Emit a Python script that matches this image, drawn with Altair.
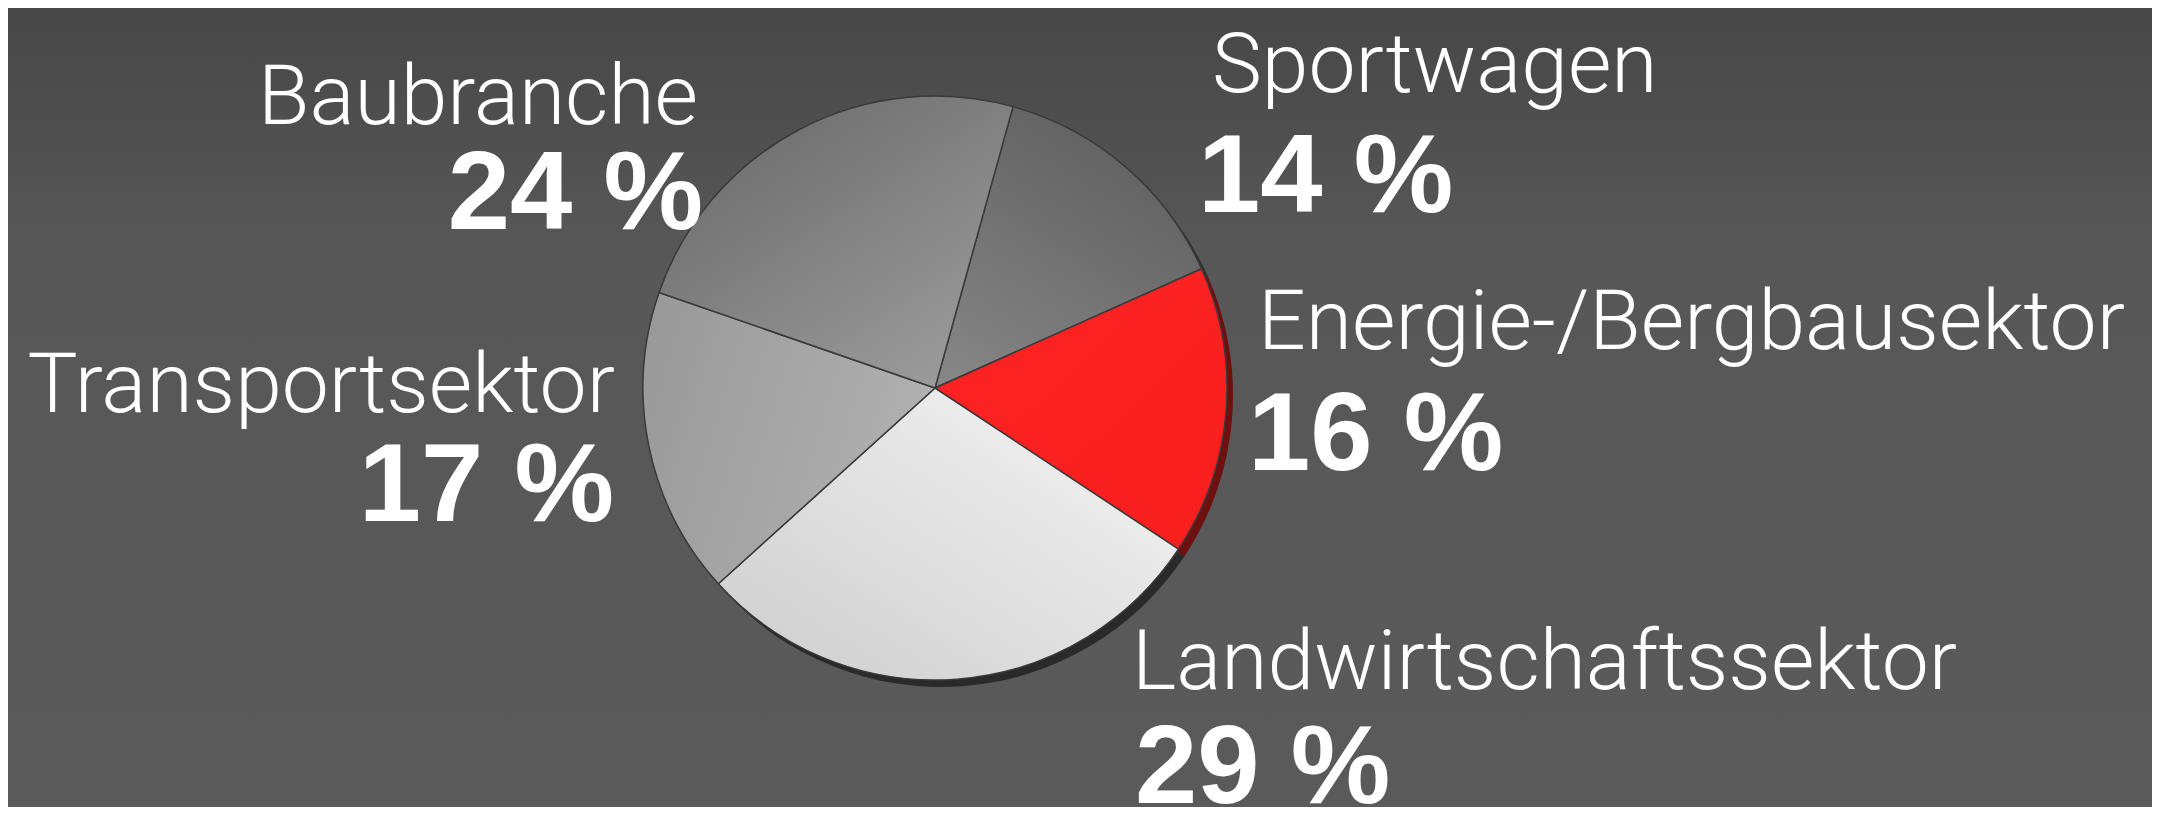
import math
import altair as alt
import pandas as pd

# ---- data ----
categories = ["Sportwagen", "Energie-/Bergbausektor", "Landwirtschaftssektor",
              "Transportsektor", "Baubranche"]
shares = [14, 16, 29, 17, 24]
pct_labels = [f"{v} %" for v in shares]

# ---- layout (chart pixel coords) ----
CX, CY, R = 927, 380, 292
RIM_DX, RIM_DY = 6, 7
START = math.radians(15.5)

label_layout = {
    # cat: (align, name_x, name_baseline, pct_x, pct_baseline)
    "Sportwagen": ("left", 1204, 84, 1190, 204),
    "Energie-/Bergbausektor": ("left", 1250, 341, 1240, 462),
    "Landwirtschaftssektor": ("left", 1124, 681, 1127, 795),
    "Transportsektor": ("right", 607, 404, 606, 513),
    "Baubranche": ("right", 690, 116, 695, 221),
}

slice_fill = {
    "Sportwagen": alt.LinearGradient(gradient="linear", x1=0.7, y1=0, x2=0.1, y2=1,
                                     stops=[alt.GradientStop(offset=0, color="#5e5e5e"),
                                            alt.GradientStop(offset=1, color="#868686")]),
    "Energie-/Bergbausektor": alt.LinearGradient(gradient="linear", x1=0, y1=0, x2=1, y2=1,
                                                 stops=[alt.GradientStop(offset=0, color="#ff2424"),
                                                        alt.GradientStop(offset=1, color="#f81e1e")]),
    "Landwirtschaftssektor": alt.LinearGradient(gradient="linear", x1=0, y1=1, x2=1, y2=0,
                                                stops=[alt.GradientStop(offset=0, color="#cdcdcd"),
                                                       alt.GradientStop(offset=1, color="#f6f6f6")]),
    "Transportsektor": alt.LinearGradient(gradient="linear", x1=0, y1=0.3, x2=1, y2=0.6,
                                          stops=[alt.GradientStop(offset=0, color="#9a9a9a"),
                                                 alt.GradientStop(offset=1, color="#b2b2b2")]),
    "Baubranche": alt.LinearGradient(gradient="linear", x1=0.1, y1=0, x2=0.9, y2=1,
                                     stops=[alt.GradientStop(offset=0, color="#686868"),
                                            alt.GradientStop(offset=1, color="#9e9e9e")]),
}
rim_colors = ["#2e2e2e", "#6e1010", "#2a2a2a", "#2e2e2e", "#2e2e2e"]

df = pd.DataFrame({
    "cat": categories,
    "share": shares,
    "order": list(range(len(categories))),
    "pct": pct_labels,
    "align": [label_layout[c][0] for c in categories],
    "nx": [label_layout[c][1] for c in categories],
    "ny": [label_layout[c][2] for c in categories],
    "px": [label_layout[c][3] for c in categories],
    "py": [label_layout[c][4] for c in categories],
})

W, H = 2144, 799

theta_scale = alt.Scale(domain=[0, 100], range=[START, START + 2 * math.pi])

base = alt.Chart(df).transform_window(
    cum="sum(share)", sort=[alt.SortField("order")]
).transform_calculate(start="datum.cum - datum.share")

bg = alt.Chart(pd.DataFrame({"a": [0]})).mark_rect(
    fill=alt.LinearGradient(gradient="linear", x1=0, y1=0, x2=0, y2=1,
                            stops=[alt.GradientStop(offset=0, color="#474747"),
                                   alt.GradientStop(offset=0.3, color="#575757"),
                                   alt.GradientStop(offset=1, color="#5a5a5a")])
).encode(x=alt.value(0), x2=alt.value(W), y=alt.value(0), y2=alt.value(H))

rim = base.mark_arc(radius=R).encode(
    theta=alt.Theta("start:Q", scale=theta_scale),
    theta2=alt.Theta2("cum:Q"),
    color=alt.Color("cat:N", scale=alt.Scale(domain=categories, range=rim_colors), legend=None),
    x=alt.value(CX + RIM_DX), y=alt.value(CY + RIM_DY),
)

slices = []
for c in categories:
    slices.append(
        base.transform_filter(alt.datum.cat == c).mark_arc(
            radius=R, fill=slice_fill[c], stroke="#3a3a3a", strokeWidth=1.5
        ).encode(
            theta=alt.Theta("start:Q", scale=theta_scale),
            theta2=alt.Theta2("cum:Q"),
            x=alt.value(CX), y=alt.value(CY),
        )
    )

texts = []
for side in ["left", "right"]:
    sub = base.transform_filter(alt.datum.align == side)
    texts.append(sub.mark_text(align=side, baseline="alphabetic", font="Roboto",
                               fontWeight=300, fontSize=84, color="#ffffff").encode(
        x=alt.X("nx:Q", scale=None), y=alt.Y("ny:Q", scale=None), text="cat:N"))
    texts.append(sub.mark_text(align=side, baseline="alphabetic", font="Liberation Sans",
                               fontWeight="bold", fontSize=112, color="#ffffff").encode(
        x=alt.X("px:Q", scale=None), y=alt.Y("py:Q", scale=None), text="pct:N"))

chart = alt.layer(bg, rim, *slices, *texts).properties(
    width=W, height=H, autosize=alt.AutoSizeParams(type="none"), padding=0,
    background="#585858",
).configure_view(stroke=None)

chart.save("out.html", embed_options={"renderer": "svg", "actions": False})
